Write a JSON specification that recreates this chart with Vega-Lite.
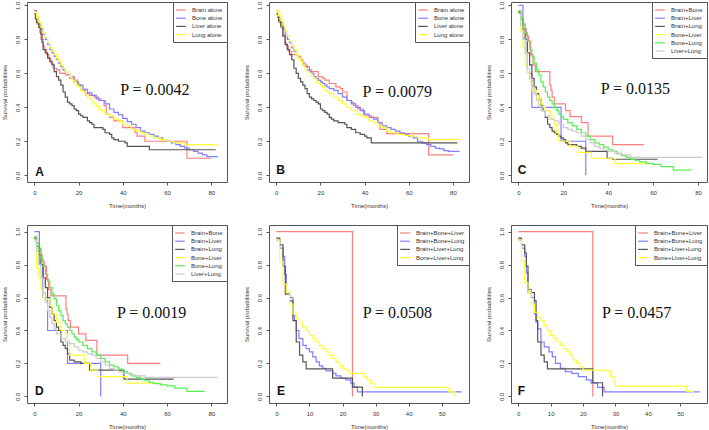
{
"$schema": "https://vega.github.io/schema/vega-lite/v6.json",
"padding": 0,
"background": "white",
"columns": 3,
"bounds": "flush",
"spacing": {"row": 43, "column": 42},
"resolve": {"scale": {"color": "independent", "x": "independent", "y": "independent"}, "legend": {"color": "independent"}},
"config": {
 "view": {"stroke": "#555", "strokeWidth": 1},
 "font": "Liberation Sans",
 "axis": {"domain": false, "grid": false, "tickSize": 3, "tickColor": "#555", "tickWidth": 1, "labelFont": "Liberation Sans", "labelFontSize": 6, "labelColor": "#333", "labelPadding": 4, "labelFlush": false, "labelOverlap": false, "labelSeparation": 0, "titleFont": "Liberation Sans", "titleFontSize": 6, "titleFontWeight": "normal", "titleColor": "#333", "titlePadding": 7},
 "axisY": {"labelAngle": 270, "labelAlign": "center", "labelBaseline": "bottom"},
 "legend": {"orient": "top-right", "offset": 0, "padding": 4, "strokeColor": "#555", "fillColor": "white", "labelFont": "Liberation Sans", "labelFontSize": 6, "labelColor": "#333", "symbolType": "M-1.6,0H1.6", "symbolSize": 36, "symbolStrokeWidth": 1.2, "rowPadding": 1.2, "labelOffset": 7, "labelLimit": 0, "cornerRadius": 0}
},
"concat": [
 {"width": 200, "height": 180, "data": {"name": "A"},
  "layer": [
   {"mark": {"type": "line", "interpolate": "step-after", "strokeWidth": 1.2, "clip": true},
    "encoding": {
     "x": {"field": "t", "type": "quantitative", "scale": {"domain": [-3.3, 87.1], "nice": false, "zero": false}, "axis": {"values": [0, 20, 40, 60, 80], "tickCount": 20, "title": "Time(months)", "labelOverlap": false}},
     "y": {"field": "s", "type": "quantitative", "scale": {"domain": [-0.04, 1.02], "nice": false, "zero": false}, "axis": {"values": [0, 0.2, 0.4, 0.6, 0.8, 1], "tickCount": 20, "format": ".1f", "title": "Survival probabilities", "labelOverlap": false}},
     "color": {"field": "g", "type": "nominal", "scale": {"domain": ["Brain alone", "Bone alone", "Liver alone", "Lung alone"], "range": ["#ff7f7f", "#7f7fff", "#555555", "#ffff33"]}, "legend": {"title": null}}}},
   {"data": {"values": [{"label": "P = 0.0042"}]}, "mark": {"type": "text", "font": "Liberation Serif", "fontSize": 16, "color": "#111"}, "encoding": {"x": {"datum": 54.5}, "y": {"datum": 0.5}, "text": {"field": "label"}}},
   {"data": {"values": [{"label": "A"}]}, "mark": {"type": "text", "font": "Liberation Sans", "fontSize": 12, "fontWeight": "bold", "color": "#111"}, "encoding": {"x": {"datum": 2.4}, "y": {"datum": 0.02}, "text": {"field": "label"}}}
  ]},
 {"width": 200, "height": 180, "data": {"name": "B"},
  "layer": [
   {"mark": {"type": "line", "interpolate": "step-after", "strokeWidth": 1.2, "clip": true},
    "encoding": {
     "x": {"field": "t", "type": "quantitative", "scale": {"domain": [-3.3, 87.3], "nice": false, "zero": false}, "axis": {"values": [0, 20, 40, 60, 80], "tickCount": 20, "title": "Time(months)", "labelOverlap": false}},
     "y": {"field": "s", "type": "quantitative", "scale": {"domain": [-0.04, 1.02], "nice": false, "zero": false}, "axis": {"values": [0, 0.2, 0.4, 0.6, 0.8, 1], "tickCount": 20, "format": ".1f", "title": "Survival probabilities", "labelOverlap": false}},
     "color": {"field": "g", "type": "nominal", "scale": {"domain": ["Brain alone", "Bone alone", "Liver alone", "Lung alone"], "range": ["#ff7f7f", "#7f7fff", "#555555", "#ffff33"]}, "legend": {"title": null}}}},
   {"data": {"values": [{"label": "P = 0.0079"}]}, "mark": {"type": "text", "font": "Liberation Serif", "fontSize": 16, "color": "#111"}, "encoding": {"x": {"datum": 54.8}, "y": {"datum": 0.49}, "text": {"field": "label"}}},
   {"data": {"values": [{"label": "B"}]}, "mark": {"type": "text", "font": "Liberation Sans", "fontSize": 12, "fontWeight": "bold", "color": "#111"}, "encoding": {"x": {"datum": 2.0}, "y": {"datum": 0.03}, "text": {"field": "label"}}}
  ]},
 {"width": 196, "height": 180, "data": {"name": "C"},
  "layer": [
   {"mark": {"type": "line", "interpolate": "step-after", "strokeWidth": 1.2, "clip": true},
    "encoding": {
     "x": {"field": "t", "type": "quantitative", "scale": {"domain": [-3.3, 84], "nice": false, "zero": false}, "axis": {"values": [0, 20, 40, 60, 80], "tickCount": 20, "title": "Time(months)", "labelOverlap": false}},
     "y": {"field": "s", "type": "quantitative", "scale": {"domain": [-0.04, 1.02], "nice": false, "zero": false}, "axis": {"values": [0, 0.2, 0.4, 0.6, 0.8, 1], "tickCount": 20, "format": ".1f", "title": "Survival probabilities", "labelOverlap": false}},
     "color": {"field": "g", "type": "nominal", "scale": {"domain": ["Brain+Bone", "Brain+Liver", "Brain+Lung", "Bone+Liver", "Bone+Lung", "Liver+Lung"], "range": ["#ff7f7f", "#7f7fff", "#555555", "#ffff33", "#55ee55", "#cccccc"]}, "legend": {"title": null}}}},
   {"data": {"values": [{"label": "P = 0.0135"}]}, "mark": {"type": "text", "font": "Liberation Serif", "fontSize": 16, "color": "#111"}, "encoding": {"x": {"datum": 52.1}, "y": {"datum": 0.505}, "text": {"field": "label"}}},
   {"data": {"values": [{"label": "C"}]}, "mark": {"type": "text", "font": "Liberation Sans", "fontSize": 12, "fontWeight": "bold", "color": "#111"}, "encoding": {"x": {"datum": 1.6}, "y": {"datum": 0.03}, "text": {"field": "label"}}}
  ]},
 {"width": 200, "height": 178, "data": {"name": "D"},
  "layer": [
   {"mark": {"type": "line", "interpolate": "step-after", "strokeWidth": 1.2, "clip": true},
    "encoding": {
     "x": {"field": "t", "type": "quantitative", "scale": {"domain": [-3.3, 87.1], "nice": false, "zero": false}, "axis": {"values": [0, 20, 40, 60, 80], "tickCount": 20, "title": "Time(months)", "labelOverlap": false}},
     "y": {"field": "s", "type": "quantitative", "scale": {"domain": [-0.04, 1.04], "nice": false, "zero": false}, "axis": {"values": [0, 0.2, 0.4, 0.6, 0.8, 1], "tickCount": 20, "format": ".1f", "title": "Survival probabilities", "labelOverlap": false}},
     "color": {"field": "g", "type": "nominal", "scale": {"domain": ["Brain+Bone", "Brain+Liver", "Brain+Lung", "Bone+Liver", "Bone+Lung", "Liver+Lung"], "range": ["#ff7f7f", "#7f7fff", "#555555", "#ffff33", "#55ee55", "#cccccc"]}, "legend": {"title": null}}}},
   {"data": {"values": [{"label": "P = 0.0019"}]}, "mark": {"type": "text", "font": "Liberation Serif", "fontSize": 16, "color": "#111"}, "encoding": {"x": {"datum": 53}, "y": {"datum": 0.509}, "text": {"field": "label"}}},
   {"data": {"values": [{"label": "D"}]}, "mark": {"type": "text", "font": "Liberation Sans", "fontSize": 12, "fontWeight": "bold", "color": "#111"}, "encoding": {"x": {"datum": 2.3}, "y": {"datum": 0.03}, "text": {"field": "label"}}}
  ]},
 {"width": 200, "height": 178, "data": {"name": "E"},
  "layer": [
   {"mark": {"type": "line", "interpolate": "step-after", "strokeWidth": 1.2, "clip": true},
    "encoding": {
     "x": {"field": "t", "type": "quantitative", "scale": {"domain": [-2.24, 58.24], "nice": false, "zero": false}, "axis": {"values": [0, 10, 20, 30, 40, 50], "tickCount": 20, "title": "Time(months)", "labelOverlap": false}},
     "y": {"field": "s", "type": "quantitative", "scale": {"domain": [-0.04, 1.04], "nice": false, "zero": false}, "axis": {"values": [0, 0.2, 0.4, 0.6, 0.8, 1], "tickCount": 20, "format": ".1f", "title": "Survival probabilities", "labelOverlap": false}},
     "color": {"field": "g", "type": "nominal", "scale": {"domain": ["Brain+Bone+Liver", "Brain+Bone+Lung", "Brain+Liver+Lung", "Bone+Liver+Lung"], "range": ["#ff7f7f", "#7f7fff", "#555555", "#ffff33"]}, "legend": {"title": null}}}},
   {"data": {"values": [{"label": "P = 0.0508"}]}, "mark": {"type": "text", "font": "Liberation Serif", "fontSize": 16, "color": "#111"}, "encoding": {"x": {"datum": 36.6}, "y": {"datum": 0.505}, "text": {"field": "label"}}},
   {"data": {"values": [{"label": "E"}]}, "mark": {"type": "text", "font": "Liberation Sans", "fontSize": 12, "fontWeight": "bold", "color": "#111"}, "encoding": {"x": {"datum": 1.4}, "y": {"datum": 0.03}, "text": {"field": "label"}}}
  ]},
 {"width": 196, "height": 178, "data": {"name": "F"},
  "layer": [
   {"mark": {"type": "line", "interpolate": "step-after", "strokeWidth": 1.2, "clip": true},
    "encoding": {
     "x": {"field": "t", "type": "quantitative", "scale": {"domain": [-2.24, 58.24], "nice": false, "zero": false}, "axis": {"values": [0, 10, 20, 30, 40, 50], "tickCount": 20, "title": "Time(months)", "labelOverlap": false}},
     "y": {"field": "s", "type": "quantitative", "scale": {"domain": [-0.04, 1.04], "nice": false, "zero": false}, "axis": {"values": [0, 0.2, 0.4, 0.6, 0.8, 1], "tickCount": 20, "format": ".1f", "title": "Survival probabilities", "labelOverlap": false}},
     "color": {"field": "g", "type": "nominal", "scale": {"domain": ["Brain+Bone+Liver", "Brain+Bone+Lung", "Brain+Liver+Lung", "Bone+Liver+Lung"], "range": ["#ff7f7f", "#7f7fff", "#555555", "#ffff33"]}, "legend": {"title": null}}}},
   {"data": {"values": [{"label": "P = 0.0457"}]}, "mark": {"type": "text", "font": "Liberation Serif", "fontSize": 16, "color": "#111"}, "encoding": {"x": {"datum": 36.5}, "y": {"datum": 0.505}, "text": {"field": "label"}}},
   {"data": {"values": [{"label": "F"}]}, "mark": {"type": "text", "font": "Liberation Sans", "fontSize": 12, "fontWeight": "bold", "color": "#111"}, "encoding": {"x": {"datum": 1.0}, "y": {"datum": 0.03}, "text": {"field": "label"}}}
  ]}
],
"datasets": {
 "A": [
  {"g":"Brain alone","t":0,"s":0.97},{"g":"Brain alone","t":0.8,"s":0.92},{"g":"Brain alone","t":1.2,"s":0.89},{"g":"Brain alone","t":2.5,"s":0.84},{"g":"Brain alone","t":3,"s":0.8},{"g":"Brain alone","t":4,"s":0.76},{"g":"Brain alone","t":4.5,"s":0.74},{"g":"Brain alone","t":5.5,"s":0.71},{"g":"Brain alone","t":6.5,"s":0.69},{"g":"Brain alone","t":7.5,"s":0.66},{"g":"Brain alone","t":8.5,"s":0.63},{"g":"Brain alone","t":10,"s":0.62},{"g":"Brain alone","t":11.5,"s":0.6},{"g":"Brain alone","t":14,"s":0.59},{"g":"Brain alone","t":16,"s":0.57},{"g":"Brain alone","t":18,"s":0.56},{"g":"Brain alone","t":19.5,"s":0.53},{"g":"Brain alone","t":21,"s":0.5},{"g":"Brain alone","t":23,"s":0.48},{"g":"Brain alone","t":25,"s":0.47},{"g":"Brain alone","t":27,"s":0.46},{"g":"Brain alone","t":29,"s":0.44},{"g":"Brain alone","t":31.5,"s":0.41},{"g":"Brain alone","t":32.5,"s":0.36},{"g":"Brain alone","t":34,"s":0.34},{"g":"Brain alone","t":36,"s":0.32},{"g":"Brain alone","t":40,"s":0.28},{"g":"Brain alone","t":45.5,"s":0.25},{"g":"Brain alone","t":46.5,"s":0.23},{"g":"Brain alone","t":50,"s":0.2},{"g":"Brain alone","t":69,"s":0.1},{"g":"Brain alone","t":80,"s":0.1},
  {"g":"Bone alone","t":0,"s":0.97},{"g":"Bone alone","t":1,"s":0.93},{"g":"Bone alone","t":2,"s":0.89},{"g":"Bone alone","t":3,"s":0.86},{"g":"Bone alone","t":4,"s":0.83},{"g":"Bone alone","t":5,"s":0.8},{"g":"Bone alone","t":6,"s":0.77},{"g":"Bone alone","t":7,"s":0.74},{"g":"Bone alone","t":8,"s":0.72},{"g":"Bone alone","t":9,"s":0.7},{"g":"Bone alone","t":10,"s":0.68},{"g":"Bone alone","t":11,"s":0.66},{"g":"Bone alone","t":12,"s":0.64},{"g":"Bone alone","t":13,"s":0.62},{"g":"Bone alone","t":14,"s":0.61},{"g":"Bone alone","t":15,"s":0.595},{"g":"Bone alone","t":16,"s":0.58},{"g":"Bone alone","t":18,"s":0.55},{"g":"Bone alone","t":20,"s":0.53},{"g":"Bone alone","t":22,"s":0.505},{"g":"Bone alone","t":24,"s":0.485},{"g":"Bone alone","t":26,"s":0.47},{"g":"Bone alone","t":28,"s":0.45},{"g":"Bone alone","t":30,"s":0.44},{"g":"Bone alone","t":32,"s":0.42},{"g":"Bone alone","t":34,"s":0.39},{"g":"Bone alone","t":36,"s":0.37},{"g":"Bone alone","t":38,"s":0.355},{"g":"Bone alone","t":40,"s":0.335},{"g":"Bone alone","t":42,"s":0.315},{"g":"Bone alone","t":44,"s":0.3},{"g":"Bone alone","t":46,"s":0.28},{"g":"Bone alone","t":48,"s":0.26},{"g":"Bone alone","t":50,"s":0.25},{"g":"Bone alone","t":52,"s":0.24},{"g":"Bone alone","t":54,"s":0.23},{"g":"Bone alone","t":56,"s":0.22},{"g":"Bone alone","t":58,"s":0.21},{"g":"Bone alone","t":60,"s":0.2},{"g":"Bone alone","t":62,"s":0.19},{"g":"Bone alone","t":64,"s":0.18},{"g":"Bone alone","t":66,"s":0.17},{"g":"Bone alone","t":68,"s":0.16},{"g":"Bone alone","t":70,"s":0.15},{"g":"Bone alone","t":72,"s":0.14},{"g":"Bone alone","t":74,"s":0.13},{"g":"Bone alone","t":76,"s":0.12},{"g":"Bone alone","t":78,"s":0.11},{"g":"Bone alone","t":83,"s":0.11},
  {"g":"Liver alone","t":0,"s":0.95},{"g":"Liver alone","t":0.5,"s":0.92},{"g":"Liver alone","t":1,"s":0.9},{"g":"Liver alone","t":2,"s":0.87},{"g":"Liver alone","t":3,"s":0.83},{"g":"Liver alone","t":3.5,"s":0.78},{"g":"Liver alone","t":4,"s":0.74},{"g":"Liver alone","t":5,"s":0.72},{"g":"Liver alone","t":6,"s":0.69},{"g":"Liver alone","t":7,"s":0.67},{"g":"Liver alone","t":8,"s":0.65},{"g":"Liver alone","t":9,"s":0.61},{"g":"Liver alone","t":10,"s":0.58},{"g":"Liver alone","t":11,"s":0.56},{"g":"Liver alone","t":12,"s":0.53},{"g":"Liver alone","t":13,"s":0.49},{"g":"Liver alone","t":14,"s":0.46},{"g":"Liver alone","t":15,"s":0.43},{"g":"Liver alone","t":16,"s":0.42},{"g":"Liver alone","t":17,"s":0.41},{"g":"Liver alone","t":18,"s":0.39},{"g":"Liver alone","t":19,"s":0.38},{"g":"Liver alone","t":20,"s":0.36},{"g":"Liver alone","t":21,"s":0.35},{"g":"Liver alone","t":22,"s":0.34},{"g":"Liver alone","t":24,"s":0.32},{"g":"Liver alone","t":25,"s":0.31},{"g":"Liver alone","t":26,"s":0.3},{"g":"Liver alone","t":27,"s":0.28},{"g":"Liver alone","t":31,"s":0.27},{"g":"Liver alone","t":32,"s":0.25},{"g":"Liver alone","t":34,"s":0.24},{"g":"Liver alone","t":35,"s":0.22},{"g":"Liver alone","t":36,"s":0.21},{"g":"Liver alone","t":38,"s":0.2},{"g":"Liver alone","t":41,"s":0.19},{"g":"Liver alone","t":42,"s":0.17},{"g":"Liver alone","t":52,"s":0.15},{"g":"Liver alone","t":82,"s":0.15},
  {"g":"Lung alone","t":0,"s":0.96},{"g":"Lung alone","t":1,"s":0.93},{"g":"Lung alone","t":2,"s":0.9},{"g":"Lung alone","t":3,"s":0.87},{"g":"Lung alone","t":4,"s":0.84},{"g":"Lung alone","t":5,"s":0.81},{"g":"Lung alone","t":6,"s":0.78},{"g":"Lung alone","t":7,"s":0.75},{"g":"Lung alone","t":8,"s":0.73},{"g":"Lung alone","t":9,"s":0.71},{"g":"Lung alone","t":10,"s":0.69},{"g":"Lung alone","t":11,"s":0.67},{"g":"Lung alone","t":12,"s":0.65},{"g":"Lung alone","t":13,"s":0.63},{"g":"Lung alone","t":14,"s":0.61},{"g":"Lung alone","t":15,"s":0.6},{"g":"Lung alone","t":16,"s":0.58},{"g":"Lung alone","t":17,"s":0.56},{"g":"Lung alone","t":18,"s":0.55},{"g":"Lung alone","t":19,"s":0.53},{"g":"Lung alone","t":20,"s":0.52},{"g":"Lung alone","t":21,"s":0.5},{"g":"Lung alone","t":22,"s":0.49},{"g":"Lung alone","t":23,"s":0.47},{"g":"Lung alone","t":24,"s":0.46},{"g":"Lung alone","t":25,"s":0.45},{"g":"Lung alone","t":26,"s":0.43},{"g":"Lung alone","t":27,"s":0.42},{"g":"Lung alone","t":28,"s":0.41},{"g":"Lung alone","t":29,"s":0.39},{"g":"Lung alone","t":30,"s":0.38},{"g":"Lung alone","t":32,"s":0.36},{"g":"Lung alone","t":34,"s":0.35},{"g":"Lung alone","t":36,"s":0.33},{"g":"Lung alone","t":38,"s":0.32},{"g":"Lung alone","t":40,"s":0.3},{"g":"Lung alone","t":42,"s":0.29},{"g":"Lung alone","t":44,"s":0.27},{"g":"Lung alone","t":46,"s":0.26},{"g":"Lung alone","t":48,"s":0.25},{"g":"Lung alone","t":50,"s":0.24},{"g":"Lung alone","t":52,"s":0.23},{"g":"Lung alone","t":54,"s":0.22},{"g":"Lung alone","t":57,"s":0.21},{"g":"Lung alone","t":60,"s":0.2},{"g":"Lung alone","t":63,"s":0.19},{"g":"Lung alone","t":68,"s":0.18},{"g":"Lung alone","t":83,"s":0.18}
 ],
 "B": [
  {"g":"Brain alone","t":0,"s":0.97},{"g":"Brain alone","t":0.8,"s":0.93},{"g":"Brain alone","t":1.2,"s":0.9},{"g":"Brain alone","t":2,"s":0.87},{"g":"Brain alone","t":3,"s":0.82},{"g":"Brain alone","t":4,"s":0.78},{"g":"Brain alone","t":4.5,"s":0.76},{"g":"Brain alone","t":5.5,"s":0.73},{"g":"Brain alone","t":7,"s":0.71},{"g":"Brain alone","t":10,"s":0.7},{"g":"Brain alone","t":11,"s":0.68},{"g":"Brain alone","t":12,"s":0.66},{"g":"Brain alone","t":13,"s":0.65},{"g":"Brain alone","t":14,"s":0.64},{"g":"Brain alone","t":15,"s":0.62},{"g":"Brain alone","t":16,"s":0.61},{"g":"Brain alone","t":19,"s":0.58},{"g":"Brain alone","t":21,"s":0.57},{"g":"Brain alone","t":22,"s":0.56},{"g":"Brain alone","t":24,"s":0.54},{"g":"Brain alone","t":27,"s":0.52},{"g":"Brain alone","t":29,"s":0.51},{"g":"Brain alone","t":30,"s":0.49},{"g":"Brain alone","t":32,"s":0.44},{"g":"Brain alone","t":34,"s":0.43},{"g":"Brain alone","t":35,"s":0.41},{"g":"Brain alone","t":37,"s":0.39},{"g":"Brain alone","t":39.5,"s":0.35},{"g":"Brain alone","t":43,"s":0.34},{"g":"Brain alone","t":46,"s":0.31},{"g":"Brain alone","t":47,"s":0.27},{"g":"Brain alone","t":50,"s":0.245},{"g":"Brain alone","t":69,"s":0.12},{"g":"Brain alone","t":80,"s":0.12},
  {"g":"Bone alone","t":0,"s":0.97},{"g":"Bone alone","t":1,"s":0.93},{"g":"Bone alone","t":2,"s":0.9},{"g":"Bone alone","t":3,"s":0.86},{"g":"Bone alone","t":4,"s":0.83},{"g":"Bone alone","t":5,"s":0.8},{"g":"Bone alone","t":6,"s":0.78},{"g":"Bone alone","t":7,"s":0.75},{"g":"Bone alone","t":8,"s":0.73},{"g":"Bone alone","t":9,"s":0.71},{"g":"Bone alone","t":10,"s":0.69},{"g":"Bone alone","t":11,"s":0.67},{"g":"Bone alone","t":12,"s":0.65},{"g":"Bone alone","t":13,"s":0.64},{"g":"Bone alone","t":14,"s":0.62},{"g":"Bone alone","t":15,"s":0.61},{"g":"Bone alone","t":16,"s":0.6},{"g":"Bone alone","t":17,"s":0.58},{"g":"Bone alone","t":18,"s":0.57},{"g":"Bone alone","t":19,"s":0.56},{"g":"Bone alone","t":20,"s":0.55},{"g":"Bone alone","t":21,"s":0.54},{"g":"Bone alone","t":22,"s":0.53},{"g":"Bone alone","t":23,"s":0.52},{"g":"Bone alone","t":24,"s":0.51},{"g":"Bone alone","t":26,"s":0.5},{"g":"Bone alone","t":28,"s":0.48},{"g":"Bone alone","t":30,"s":0.46},{"g":"Bone alone","t":32,"s":0.44},{"g":"Bone alone","t":34,"s":0.42},{"g":"Bone alone","t":36,"s":0.4},{"g":"Bone alone","t":38,"s":0.38},{"g":"Bone alone","t":40,"s":0.36},{"g":"Bone alone","t":42,"s":0.34},{"g":"Bone alone","t":44,"s":0.33},{"g":"Bone alone","t":46,"s":0.31},{"g":"Bone alone","t":48,"s":0.29},{"g":"Bone alone","t":50,"s":0.28},{"g":"Bone alone","t":52,"s":0.27},{"g":"Bone alone","t":54,"s":0.26},{"g":"Bone alone","t":56,"s":0.25},{"g":"Bone alone","t":58,"s":0.24},{"g":"Bone alone","t":60,"s":0.23},{"g":"Bone alone","t":62,"s":0.22},{"g":"Bone alone","t":64,"s":0.2},{"g":"Bone alone","t":66,"s":0.19},{"g":"Bone alone","t":68,"s":0.18},{"g":"Bone alone","t":70,"s":0.17},{"g":"Bone alone","t":72,"s":0.16},{"g":"Bone alone","t":74,"s":0.155},{"g":"Bone alone","t":76,"s":0.145},{"g":"Bone alone","t":78,"s":0.14},{"g":"Bone alone","t":83,"s":0.14},
  {"g":"Liver alone","t":0,"s":0.95},{"g":"Liver alone","t":1,"s":0.91},{"g":"Liver alone","t":2,"s":0.88},{"g":"Liver alone","t":3,"s":0.82},{"g":"Liver alone","t":4,"s":0.77},{"g":"Liver alone","t":5,"s":0.74},{"g":"Liver alone","t":6,"s":0.71},{"g":"Liver alone","t":7,"s":0.68},{"g":"Liver alone","t":8,"s":0.63},{"g":"Liver alone","t":9,"s":0.6},{"g":"Liver alone","t":10,"s":0.57},{"g":"Liver alone","t":11,"s":0.55},{"g":"Liver alone","t":12,"s":0.53},{"g":"Liver alone","t":13,"s":0.51},{"g":"Liver alone","t":14,"s":0.48},{"g":"Liver alone","t":15,"s":0.46},{"g":"Liver alone","t":16,"s":0.45},{"g":"Liver alone","t":17,"s":0.44},{"g":"Liver alone","t":18,"s":0.43},{"g":"Liver alone","t":19,"s":0.42},{"g":"Liver alone","t":20,"s":0.39},{"g":"Liver alone","t":21,"s":0.38},{"g":"Liver alone","t":22,"s":0.37},{"g":"Liver alone","t":23,"s":0.36},{"g":"Liver alone","t":24,"s":0.34},{"g":"Liver alone","t":25,"s":0.33},{"g":"Liver alone","t":26,"s":0.32},{"g":"Liver alone","t":28,"s":0.31},{"g":"Liver alone","t":31,"s":0.3},{"g":"Liver alone","t":32,"s":0.28},{"g":"Liver alone","t":34,"s":0.27},{"g":"Liver alone","t":36,"s":0.25},{"g":"Liver alone","t":38,"s":0.24},{"g":"Liver alone","t":40,"s":0.23},{"g":"Liver alone","t":41,"s":0.22},{"g":"Liver alone","t":43,"s":0.19},{"g":"Liver alone","t":82,"s":0.19},
  {"g":"Lung alone","t":0,"s":0.97},{"g":"Lung alone","t":1,"s":0.94},{"g":"Lung alone","t":2,"s":0.91},{"g":"Lung alone","t":3,"s":0.88},{"g":"Lung alone","t":4,"s":0.85},{"g":"Lung alone","t":5,"s":0.82},{"g":"Lung alone","t":6,"s":0.79},{"g":"Lung alone","t":7,"s":0.76},{"g":"Lung alone","t":8,"s":0.74},{"g":"Lung alone","t":9,"s":0.71},{"g":"Lung alone","t":10,"s":0.69},{"g":"Lung alone","t":11,"s":0.67},{"g":"Lung alone","t":12,"s":0.65},{"g":"Lung alone","t":13,"s":0.63},{"g":"Lung alone","t":14,"s":0.61},{"g":"Lung alone","t":15,"s":0.6},{"g":"Lung alone","t":16,"s":0.58},{"g":"Lung alone","t":17,"s":0.57},{"g":"Lung alone","t":18,"s":0.55},{"g":"Lung alone","t":19,"s":0.54},{"g":"Lung alone","t":20,"s":0.53},{"g":"Lung alone","t":21,"s":0.52},{"g":"Lung alone","t":22,"s":0.5},{"g":"Lung alone","t":23,"s":0.49},{"g":"Lung alone","t":24,"s":0.48},{"g":"Lung alone","t":26,"s":0.46},{"g":"Lung alone","t":28,"s":0.44},{"g":"Lung alone","t":30,"s":0.42},{"g":"Lung alone","t":32,"s":0.4},{"g":"Lung alone","t":34,"s":0.38},{"g":"Lung alone","t":36,"s":0.36},{"g":"Lung alone","t":38,"s":0.35},{"g":"Lung alone","t":40,"s":0.34},{"g":"Lung alone","t":42,"s":0.32},{"g":"Lung alone","t":44,"s":0.31},{"g":"Lung alone","t":46,"s":0.29},{"g":"Lung alone","t":48,"s":0.28},{"g":"Lung alone","t":50,"s":0.26},{"g":"Lung alone","t":52,"s":0.25},{"g":"Lung alone","t":55,"s":0.24},{"g":"Lung alone","t":58,"s":0.235},{"g":"Lung alone","t":61,"s":0.23},{"g":"Lung alone","t":64,"s":0.22},{"g":"Lung alone","t":69,"s":0.21},{"g":"Lung alone","t":83,"s":0.21}
 ],
 "C": [
  {"g":"Brain+Bone","t":0,"s":0.96},{"g":"Brain+Bone","t":1,"s":0.93},{"g":"Brain+Bone","t":2,"s":0.89},{"g":"Brain+Bone","t":3,"s":0.86},{"g":"Brain+Bone","t":3.5,"s":0.82},{"g":"Brain+Bone","t":4.5,"s":0.79},{"g":"Brain+Bone","t":5.5,"s":0.71},{"g":"Brain+Bone","t":6.5,"s":0.65},{"g":"Brain+Bone","t":7.5,"s":0.61},{"g":"Brain+Bone","t":14,"s":0.53},{"g":"Brain+Bone","t":14.5,"s":0.5},{"g":"Brain+Bone","t":15,"s":0.46},{"g":"Brain+Bone","t":16,"s":0.42},{"g":"Brain+Bone","t":21,"s":0.38},{"g":"Brain+Bone","t":23,"s":0.345},{"g":"Brain+Bone","t":28,"s":0.31},{"g":"Brain+Bone","t":31,"s":0.23},{"g":"Brain+Bone","t":42,"s":0.18},{"g":"Brain+Bone","t":56,"s":0.18},
  {"g":"Brain+Liver","t":0,"s":1},{"g":"Brain+Liver","t":2,"s":0.8},{"g":"Brain+Liver","t":4,"s":0.6},{"g":"Brain+Liver","t":6,"s":0.4},{"g":"Brain+Liver","t":19,"s":0.2},{"g":"Brain+Liver","t":30,"s":0},
  {"g":"Brain+Lung","t":0,"s":0.96},{"g":"Brain+Lung","t":1,"s":0.92},{"g":"Brain+Lung","t":2,"s":0.86},{"g":"Brain+Lung","t":3,"s":0.8},{"g":"Brain+Lung","t":4,"s":0.72},{"g":"Brain+Lung","t":5,"s":0.65},{"g":"Brain+Lung","t":6,"s":0.57},{"g":"Brain+Lung","t":7,"s":0.52},{"g":"Brain+Lung","t":8,"s":0.48},{"g":"Brain+Lung","t":9,"s":0.45},{"g":"Brain+Lung","t":10,"s":0.41},{"g":"Brain+Lung","t":11,"s":0.38},{"g":"Brain+Lung","t":12,"s":0.34},{"g":"Brain+Lung","t":13,"s":0.3},{"g":"Brain+Lung","t":14,"s":0.28},{"g":"Brain+Lung","t":15,"s":0.26},{"g":"Brain+Lung","t":16,"s":0.25},{"g":"Brain+Lung","t":17,"s":0.24},{"g":"Brain+Lung","t":18,"s":0.23},{"g":"Brain+Lung","t":19,"s":0.22},{"g":"Brain+Lung","t":20,"s":0.21},{"g":"Brain+Lung","t":21,"s":0.19},{"g":"Brain+Lung","t":22,"s":0.18},{"g":"Brain+Lung","t":26,"s":0.17},{"g":"Brain+Lung","t":28,"s":0.16},{"g":"Brain+Lung","t":30,"s":0.14},{"g":"Brain+Lung","t":39.5,"s":0.1},{"g":"Brain+Lung","t":42,"s":0.094},{"g":"Brain+Lung","t":62,"s":0.094},
  {"g":"Bone+Liver","t":0,"s":0.95},{"g":"Bone+Liver","t":1,"s":0.85},{"g":"Bone+Liver","t":2,"s":0.75},{"g":"Bone+Liver","t":3,"s":0.65},{"g":"Bone+Liver","t":4,"s":0.6},{"g":"Bone+Liver","t":5,"s":0.55},{"g":"Bone+Liver","t":6,"s":0.5},{"g":"Bone+Liver","t":8,"s":0.47},{"g":"Bone+Liver","t":9,"s":0.45},{"g":"Bone+Liver","t":10,"s":0.42},{"g":"Bone+Liver","t":11,"s":0.4},{"g":"Bone+Liver","t":12,"s":0.38},{"g":"Bone+Liver","t":14,"s":0.36},{"g":"Bone+Liver","t":15,"s":0.33},{"g":"Bone+Liver","t":16,"s":0.3},{"g":"Bone+Liver","t":17,"s":0.25},{"g":"Bone+Liver","t":18,"s":0.2},{"g":"Bone+Liver","t":23,"s":0.17},{"g":"Bone+Liver","t":26.5,"s":0.135},{"g":"Bone+Liver","t":32.5,"s":0.1},{"g":"Bone+Liver","t":43,"s":0.068},{"g":"Bone+Liver","t":58,"s":0.068},
  {"g":"Bone+Lung","t":0,"s":0.97},{"g":"Bone+Lung","t":1,"s":0.93},{"g":"Bone+Lung","t":2,"s":0.89},{"g":"Bone+Lung","t":3,"s":0.84},{"g":"Bone+Lung","t":4,"s":0.79},{"g":"Bone+Lung","t":5,"s":0.74},{"g":"Bone+Lung","t":6,"s":0.7},{"g":"Bone+Lung","t":7,"s":0.66},{"g":"Bone+Lung","t":8,"s":0.62},{"g":"Bone+Lung","t":9,"s":0.59},{"g":"Bone+Lung","t":10,"s":0.55},{"g":"Bone+Lung","t":11,"s":0.52},{"g":"Bone+Lung","t":12,"s":0.49},{"g":"Bone+Lung","t":13,"s":0.46},{"g":"Bone+Lung","t":14,"s":0.44},{"g":"Bone+Lung","t":15,"s":0.42},{"g":"Bone+Lung","t":16,"s":0.4},{"g":"Bone+Lung","t":17,"s":0.38},{"g":"Bone+Lung","t":18,"s":0.36},{"g":"Bone+Lung","t":19,"s":0.345},{"g":"Bone+Lung","t":20,"s":0.33},{"g":"Bone+Lung","t":22,"s":0.31},{"g":"Bone+Lung","t":24,"s":0.29},{"g":"Bone+Lung","t":26,"s":0.27},{"g":"Bone+Lung","t":28,"s":0.25},{"g":"Bone+Lung","t":30,"s":0.23},{"g":"Bone+Lung","t":32,"s":0.21},{"g":"Bone+Lung","t":34,"s":0.19},{"g":"Bone+Lung","t":36,"s":0.18},{"g":"Bone+Lung","t":38,"s":0.165},{"g":"Bone+Lung","t":40,"s":0.15},{"g":"Bone+Lung","t":42,"s":0.14},{"g":"Bone+Lung","t":44,"s":0.125},{"g":"Bone+Lung","t":46,"s":0.115},{"g":"Bone+Lung","t":48,"s":0.105},{"g":"Bone+Lung","t":50,"s":0.095},{"g":"Bone+Lung","t":52,"s":0.085},{"g":"Bone+Lung","t":54,"s":0.078},{"g":"Bone+Lung","t":57,"s":0.07},{"g":"Bone+Lung","t":60,"s":0.064},{"g":"Bone+Lung","t":63.5,"s":0.05},{"g":"Bone+Lung","t":69,"s":0.03},{"g":"Bone+Lung","t":77,"s":0.03},
  {"g":"Liver+Lung","t":0,"s":0.95},{"g":"Liver+Lung","t":1,"s":0.88},{"g":"Liver+Lung","t":2,"s":0.8},{"g":"Liver+Lung","t":3,"s":0.72},{"g":"Liver+Lung","t":4,"s":0.63},{"g":"Liver+Lung","t":5,"s":0.57},{"g":"Liver+Lung","t":6,"s":0.52},{"g":"Liver+Lung","t":7,"s":0.48},{"g":"Liver+Lung","t":8,"s":0.44},{"g":"Liver+Lung","t":9,"s":0.41},{"g":"Liver+Lung","t":10,"s":0.38},{"g":"Liver+Lung","t":12,"s":0.35},{"g":"Liver+Lung","t":14,"s":0.33},{"g":"Liver+Lung","t":16,"s":0.32},{"g":"Liver+Lung","t":18,"s":0.3},{"g":"Liver+Lung","t":20,"s":0.28},{"g":"Liver+Lung","t":22,"s":0.27},{"g":"Liver+Lung","t":24,"s":0.26},{"g":"Liver+Lung","t":26,"s":0.25},{"g":"Liver+Lung","t":28,"s":0.23},{"g":"Liver+Lung","t":30,"s":0.21},{"g":"Liver+Lung","t":32,"s":0.19},{"g":"Liver+Lung","t":34,"s":0.17},{"g":"Liver+Lung","t":36,"s":0.16},{"g":"Liver+Lung","t":38,"s":0.15},{"g":"Liver+Lung","t":40,"s":0.14},{"g":"Liver+Lung","t":43,"s":0.13},{"g":"Liver+Lung","t":46,"s":0.12},{"g":"Liver+Lung","t":50,"s":0.105},{"g":"Liver+Lung","t":82,"s":0.105}
 ],
 "D": [
  {"g":"Brain+Bone","t":0,"s":0.96},{"g":"Brain+Bone","t":1,"s":0.93},{"g":"Brain+Bone","t":2,"s":0.9},{"g":"Brain+Bone","t":3,"s":0.86},{"g":"Brain+Bone","t":3.5,"s":0.82},{"g":"Brain+Bone","t":4.5,"s":0.79},{"g":"Brain+Bone","t":5.5,"s":0.71},{"g":"Brain+Bone","t":6.5,"s":0.65},{"g":"Brain+Bone","t":7.5,"s":0.61},{"g":"Brain+Bone","t":14.3,"s":0.53},{"g":"Brain+Bone","t":14.8,"s":0.5},{"g":"Brain+Bone","t":15.3,"s":0.46},{"g":"Brain+Bone","t":16.3,"s":0.42},{"g":"Brain+Bone","t":20,"s":0.38},{"g":"Brain+Bone","t":23.3,"s":0.34},{"g":"Brain+Bone","t":28.3,"s":0.25},{"g":"Brain+Bone","t":42.2,"s":0.2},{"g":"Brain+Bone","t":57,"s":0.2},
  {"g":"Brain+Liver","t":0,"s":1},{"g":"Brain+Liver","t":2.3,"s":0.8},{"g":"Brain+Liver","t":3.8,"s":0.6},{"g":"Brain+Liver","t":6,"s":0.4},{"g":"Brain+Liver","t":15,"s":0.2},{"g":"Brain+Liver","t":30,"s":0},
  {"g":"Brain+Lung","t":0,"s":0.96},{"g":"Brain+Lung","t":1,"s":0.91},{"g":"Brain+Lung","t":2,"s":0.86},{"g":"Brain+Lung","t":3,"s":0.8},{"g":"Brain+Lung","t":4,"s":0.72},{"g":"Brain+Lung","t":5,"s":0.66},{"g":"Brain+Lung","t":6,"s":0.6},{"g":"Brain+Lung","t":7,"s":0.54},{"g":"Brain+Lung","t":8,"s":0.5},{"g":"Brain+Lung","t":9,"s":0.46},{"g":"Brain+Lung","t":10,"s":0.42},{"g":"Brain+Lung","t":11,"s":0.4},{"g":"Brain+Lung","t":12,"s":0.33},{"g":"Brain+Lung","t":13,"s":0.31},{"g":"Brain+Lung","t":14,"s":0.29},{"g":"Brain+Lung","t":15,"s":0.26},{"g":"Brain+Lung","t":16,"s":0.22},{"g":"Brain+Lung","t":18,"s":0.21},{"g":"Brain+Lung","t":21,"s":0.2},{"g":"Brain+Lung","t":25,"s":0.16},{"g":"Brain+Lung","t":40.5,"s":0.105},{"g":"Brain+Lung","t":63,"s":0.105},
  {"g":"Bone+Liver","t":0,"s":0.95},{"g":"Bone+Liver","t":1,"s":0.78},{"g":"Bone+Liver","t":2,"s":0.72},{"g":"Bone+Liver","t":3,"s":0.65},{"g":"Bone+Liver","t":4,"s":0.6},{"g":"Bone+Liver","t":5,"s":0.59},{"g":"Bone+Liver","t":7,"s":0.55},{"g":"Bone+Liver","t":8,"s":0.5},{"g":"Bone+Liver","t":10,"s":0.45},{"g":"Bone+Liver","t":12,"s":0.4},{"g":"Bone+Liver","t":14,"s":0.38},{"g":"Bone+Liver","t":15,"s":0.33},{"g":"Bone+Liver","t":16,"s":0.25},{"g":"Bone+Liver","t":22.6,"s":0.2},{"g":"Bone+Liver","t":25.5,"s":0.16},{"g":"Bone+Liver","t":28.6,"s":0.12},{"g":"Bone+Liver","t":42,"s":0.08},{"g":"Bone+Liver","t":57,"s":0.08},
  {"g":"Bone+Lung","t":0,"s":0.97},{"g":"Bone+Lung","t":1,"s":0.93},{"g":"Bone+Lung","t":2,"s":0.89},{"g":"Bone+Lung","t":3,"s":0.84},{"g":"Bone+Lung","t":4,"s":0.79},{"g":"Bone+Lung","t":5,"s":0.74},{"g":"Bone+Lung","t":6,"s":0.7},{"g":"Bone+Lung","t":7,"s":0.66},{"g":"Bone+Lung","t":8,"s":0.62},{"g":"Bone+Lung","t":9,"s":0.59},{"g":"Bone+Lung","t":10,"s":0.55},{"g":"Bone+Lung","t":11,"s":0.52},{"g":"Bone+Lung","t":12,"s":0.49},{"g":"Bone+Lung","t":13,"s":0.46},{"g":"Bone+Lung","t":14,"s":0.44},{"g":"Bone+Lung","t":15,"s":0.42},{"g":"Bone+Lung","t":16,"s":0.4},{"g":"Bone+Lung","t":17,"s":0.38},{"g":"Bone+Lung","t":18,"s":0.36},{"g":"Bone+Lung","t":19,"s":0.345},{"g":"Bone+Lung","t":20,"s":0.33},{"g":"Bone+Lung","t":22,"s":0.31},{"g":"Bone+Lung","t":24,"s":0.29},{"g":"Bone+Lung","t":26,"s":0.27},{"g":"Bone+Lung","t":28,"s":0.25},{"g":"Bone+Lung","t":30,"s":0.23},{"g":"Bone+Lung","t":32,"s":0.21},{"g":"Bone+Lung","t":34,"s":0.19},{"g":"Bone+Lung","t":36,"s":0.18},{"g":"Bone+Lung","t":38,"s":0.165},{"g":"Bone+Lung","t":40,"s":0.15},{"g":"Bone+Lung","t":42,"s":0.14},{"g":"Bone+Lung","t":44,"s":0.125},{"g":"Bone+Lung","t":46,"s":0.115},{"g":"Bone+Lung","t":48,"s":0.105},{"g":"Bone+Lung","t":50,"s":0.095},{"g":"Bone+Lung","t":52,"s":0.085},{"g":"Bone+Lung","t":54,"s":0.078},{"g":"Bone+Lung","t":57,"s":0.07},{"g":"Bone+Lung","t":60,"s":0.064},{"g":"Bone+Lung","t":63.5,"s":0.05},{"g":"Bone+Lung","t":69,"s":0.03},{"g":"Bone+Lung","t":77,"s":0.03},
  {"g":"Liver+Lung","t":0,"s":0.95},{"g":"Liver+Lung","t":1,"s":0.88},{"g":"Liver+Lung","t":2,"s":0.8},{"g":"Liver+Lung","t":3,"s":0.72},{"g":"Liver+Lung","t":4,"s":0.63},{"g":"Liver+Lung","t":5,"s":0.57},{"g":"Liver+Lung","t":6,"s":0.52},{"g":"Liver+Lung","t":7,"s":0.48},{"g":"Liver+Lung","t":8,"s":0.44},{"g":"Liver+Lung","t":9,"s":0.41},{"g":"Liver+Lung","t":10,"s":0.38},{"g":"Liver+Lung","t":12,"s":0.35},{"g":"Liver+Lung","t":14,"s":0.33},{"g":"Liver+Lung","t":16,"s":0.32},{"g":"Liver+Lung","t":18,"s":0.3},{"g":"Liver+Lung","t":20,"s":0.28},{"g":"Liver+Lung","t":22,"s":0.27},{"g":"Liver+Lung","t":24,"s":0.26},{"g":"Liver+Lung","t":26,"s":0.25},{"g":"Liver+Lung","t":28,"s":0.23},{"g":"Liver+Lung","t":30,"s":0.21},{"g":"Liver+Lung","t":32,"s":0.19},{"g":"Liver+Lung","t":34,"s":0.17},{"g":"Liver+Lung","t":36,"s":0.16},{"g":"Liver+Lung","t":38,"s":0.15},{"g":"Liver+Lung","t":40,"s":0.14},{"g":"Liver+Lung","t":43,"s":0.13},{"g":"Liver+Lung","t":46,"s":0.125},{"g":"Liver+Lung","t":50,"s":0.115},{"g":"Liver+Lung","t":83,"s":0.115}
 ],
 "E": [
  {"g":"Brain+Bone+Liver","t":0,"s":1},{"g":"Brain+Bone+Liver","t":23,"s":0},
  {"g":"Brain+Bone+Lung","t":0,"s":0.95},{"g":"Brain+Bone+Lung","t":1,"s":0.9},{"g":"Brain+Bone+Lung","t":2,"s":0.85},{"g":"Brain+Bone+Lung","t":2.5,"s":0.74},{"g":"Brain+Bone+Lung","t":3,"s":0.63},{"g":"Brain+Bone+Lung","t":4,"s":0.6},{"g":"Brain+Bone+Lung","t":5,"s":0.49},{"g":"Brain+Bone+Lung","t":5.5,"s":0.46},{"g":"Brain+Bone+Lung","t":6,"s":0.4},{"g":"Brain+Bone+Lung","t":6.8,"s":0.35},{"g":"Brain+Bone+Lung","t":8,"s":0.31},{"g":"Brain+Bone+Lung","t":9,"s":0.29},{"g":"Brain+Bone+Lung","t":10,"s":0.27},{"g":"Brain+Bone+Lung","t":11,"s":0.24},{"g":"Brain+Bone+Lung","t":12,"s":0.21},{"g":"Brain+Bone+Lung","t":13,"s":0.185},{"g":"Brain+Bone+Lung","t":14,"s":0.17},{"g":"Brain+Bone+Lung","t":15,"s":0.155},{"g":"Brain+Bone+Lung","t":17,"s":0.14},{"g":"Brain+Bone+Lung","t":18,"s":0.125},{"g":"Brain+Bone+Lung","t":19.5,"s":0.11},{"g":"Brain+Bone+Lung","t":21,"s":0.1},{"g":"Brain+Bone+Lung","t":22.5,"s":0.08},{"g":"Brain+Bone+Lung","t":23.5,"s":0.055},{"g":"Brain+Bone+Lung","t":24.5,"s":0.028},{"g":"Brain+Bone+Lung","t":56,"s":0.028},
  {"g":"Brain+Liver+Lung","t":0,"s":0.96},{"g":"Brain+Liver+Lung","t":1,"s":0.92},{"g":"Brain+Liver+Lung","t":2,"s":0.79},{"g":"Brain+Liver+Lung","t":2.7,"s":0.62},{"g":"Brain+Liver+Lung","t":4,"s":0.58},{"g":"Brain+Liver+Lung","t":5,"s":0.46},{"g":"Brain+Liver+Lung","t":6,"s":0.33},{"g":"Brain+Liver+Lung","t":7,"s":0.25},{"g":"Brain+Liver+Lung","t":8,"s":0.21},{"g":"Brain+Liver+Lung","t":9,"s":0.167},{"g":"Brain+Liver+Lung","t":17,"s":0.111},{"g":"Brain+Liver+Lung","t":23,"s":0.056},{"g":"Brain+Liver+Lung","t":26,"s":0},
  {"g":"Bone+Liver+Lung","t":0,"s":0.95},{"g":"Bone+Liver+Lung","t":1,"s":0.82},{"g":"Bone+Liver+Lung","t":2,"s":0.68},{"g":"Bone+Liver+Lung","t":3,"s":0.63},{"g":"Bone+Liver+Lung","t":4,"s":0.56},{"g":"Bone+Liver+Lung","t":5,"s":0.5},{"g":"Bone+Liver+Lung","t":6,"s":0.47},{"g":"Bone+Liver+Lung","t":7,"s":0.45},{"g":"Bone+Liver+Lung","t":8,"s":0.42},{"g":"Bone+Liver+Lung","t":9,"s":0.4},{"g":"Bone+Liver+Lung","t":10,"s":0.37},{"g":"Bone+Liver+Lung","t":11,"s":0.35},{"g":"Bone+Liver+Lung","t":12,"s":0.33},{"g":"Bone+Liver+Lung","t":13,"s":0.31},{"g":"Bone+Liver+Lung","t":14,"s":0.29},{"g":"Bone+Liver+Lung","t":15,"s":0.27},{"g":"Bone+Liver+Lung","t":16,"s":0.25},{"g":"Bone+Liver+Lung","t":17,"s":0.23},{"g":"Bone+Liver+Lung","t":18,"s":0.21},{"g":"Bone+Liver+Lung","t":19,"s":0.19},{"g":"Bone+Liver+Lung","t":20,"s":0.17},{"g":"Bone+Liver+Lung","t":21,"s":0.16},{"g":"Bone+Liver+Lung","t":22,"s":0.14},{"g":"Bone+Liver+Lung","t":26.5,"s":0.12},{"g":"Bone+Liver+Lung","t":27.5,"s":0.1},{"g":"Bone+Liver+Lung","t":28.5,"s":0.08},{"g":"Bone+Liver+Lung","t":29.5,"s":0.055},{"g":"Bone+Liver+Lung","t":52,"s":0.028},{"g":"Bone+Liver+Lung","t":54,"s":0}
 ],
 "F": [
  {"g":"Brain+Bone+Liver","t":0,"s":1},{"g":"Brain+Bone+Liver","t":23,"s":0},
  {"g":"Brain+Bone+Lung","t":0,"s":0.95},{"g":"Brain+Bone+Lung","t":1,"s":0.9},{"g":"Brain+Bone+Lung","t":2,"s":0.85},{"g":"Brain+Bone+Lung","t":2.5,"s":0.75},{"g":"Brain+Bone+Lung","t":3,"s":0.65},{"g":"Brain+Bone+Lung","t":4,"s":0.6},{"g":"Brain+Bone+Lung","t":5,"s":0.5},{"g":"Brain+Bone+Lung","t":5.5,"s":0.45},{"g":"Brain+Bone+Lung","t":6,"s":0.41},{"g":"Brain+Bone+Lung","t":7,"s":0.33},{"g":"Brain+Bone+Lung","t":8,"s":0.3},{"g":"Brain+Bone+Lung","t":9.5,"s":0.27},{"g":"Brain+Bone+Lung","t":10.5,"s":0.24},{"g":"Brain+Bone+Lung","t":11.5,"s":0.2},{"g":"Brain+Bone+Lung","t":13,"s":0.17},{"g":"Brain+Bone+Lung","t":14.5,"s":0.15},{"g":"Brain+Bone+Lung","t":16.5,"s":0.14},{"g":"Brain+Bone+Lung","t":18.5,"s":0.12},{"g":"Brain+Bone+Lung","t":21,"s":0.1},{"g":"Brain+Bone+Lung","t":22.5,"s":0.08},{"g":"Brain+Bone+Lung","t":24.5,"s":0.055},{"g":"Brain+Bone+Lung","t":26.5,"s":0.028},{"g":"Brain+Bone+Lung","t":56,"s":0.028},
  {"g":"Brain+Liver+Lung","t":0,"s":0.96},{"g":"Brain+Liver+Lung","t":1,"s":0.92},{"g":"Brain+Liver+Lung","t":2,"s":0.87},{"g":"Brain+Liver+Lung","t":2.5,"s":0.79},{"g":"Brain+Liver+Lung","t":3,"s":0.63},{"g":"Brain+Liver+Lung","t":5,"s":0.58},{"g":"Brain+Liver+Lung","t":5.5,"s":0.46},{"g":"Brain+Liver+Lung","t":6,"s":0.33},{"g":"Brain+Liver+Lung","t":7,"s":0.25},{"g":"Brain+Liver+Lung","t":8,"s":0.21},{"g":"Brain+Liver+Lung","t":9,"s":0.167},{"g":"Brain+Liver+Lung","t":23,"s":0.083},{"g":"Brain+Liver+Lung","t":26,"s":0},
  {"g":"Bone+Liver+Lung","t":0,"s":0.95},{"g":"Bone+Liver+Lung","t":1,"s":0.82},{"g":"Bone+Liver+Lung","t":2,"s":0.69},{"g":"Bone+Liver+Lung","t":3,"s":0.63},{"g":"Bone+Liver+Lung","t":4,"s":0.56},{"g":"Bone+Liver+Lung","t":5,"s":0.51},{"g":"Bone+Liver+Lung","t":6,"s":0.48},{"g":"Bone+Liver+Lung","t":7,"s":0.46},{"g":"Bone+Liver+Lung","t":8,"s":0.43},{"g":"Bone+Liver+Lung","t":9,"s":0.4},{"g":"Bone+Liver+Lung","t":10,"s":0.37},{"g":"Bone+Liver+Lung","t":11,"s":0.35},{"g":"Bone+Liver+Lung","t":12,"s":0.33},{"g":"Bone+Liver+Lung","t":13,"s":0.31},{"g":"Bone+Liver+Lung","t":14,"s":0.29},{"g":"Bone+Liver+Lung","t":15,"s":0.27},{"g":"Bone+Liver+Lung","t":16,"s":0.25},{"g":"Bone+Liver+Lung","t":17,"s":0.22},{"g":"Bone+Liver+Lung","t":18,"s":0.2},{"g":"Bone+Liver+Lung","t":19,"s":0.18},{"g":"Bone+Liver+Lung","t":20,"s":0.16},{"g":"Bone+Liver+Lung","t":27,"s":0.155},{"g":"Bone+Liver+Lung","t":28.5,"s":0.12},{"g":"Bone+Liver+Lung","t":29.5,"s":0.09},{"g":"Bone+Liver+Lung","t":30,"s":0.062},{"g":"Bone+Liver+Lung","t":52,"s":0.031},{"g":"Bone+Liver+Lung","t":54,"s":0}
 ]
}
}
